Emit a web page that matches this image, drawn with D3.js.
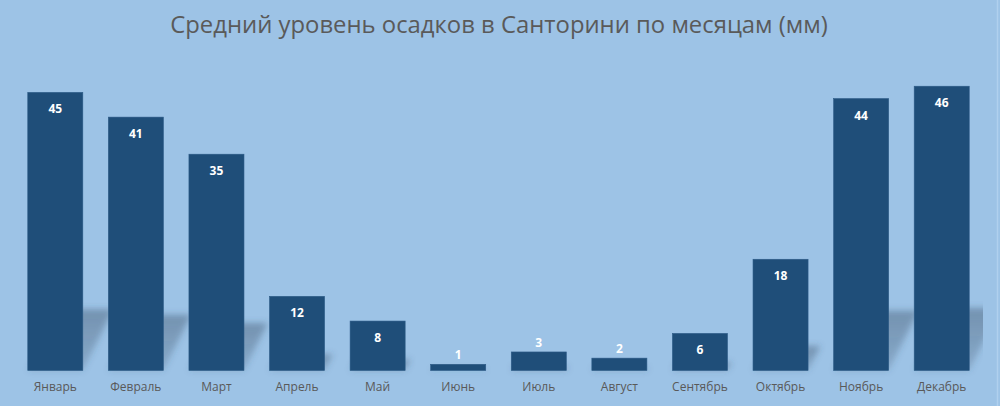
<!DOCTYPE html>
<html><head><meta charset="utf-8">
<script src="https://cdn.jsdelivr.net/npm/d3@7/dist/d3.min.js"></script>
<style>
html,body{margin:0;padding:0;background:#9dc3e6;}
svg{display:block;}
</style></head>
<body>
<svg id="chart" width="1000" height="406"></svg>
<script>
const months = ["Январь","Февраль","Март","Апрель","Май","Июнь","Июль","Август","Сентябрь","Октябрь","Ноябрь","Декабрь"];
const rainfall = [45, 41, 35, 12, 8, 1, 3, 2, 6, 18, 44, 46];
const titleText = "Средний уровень осадков в Санторини по месяцам (мм)";

const W = 1000, H = 406;
const svg = d3.select("#chart");
svg.append("rect").attr("width", W).attr("height", H).attr("fill", "#9dc3e6");
svg.append("line").attr("x1", 997.5).attr("x2", 997.5).attr("y1", 0).attr("y2", H)
  .attr("stroke", "#b0d0ee").attr("stroke-width", 1.5);

const x = d3.scaleBand().domain(months).range([15, 982]).paddingInner(0.317).paddingOuter(0.1585);
const y = d3.scaleLinear().domain([0, 50]).range([370.5, 61.5]);

const defs = svg.append("defs");
const f = defs.append("filter").attr("id", "blur").attr("x", "-30%").attr("y", "-30%").attr("width", "160%").attr("height", "160%");
f.append("feGaussianBlur").attr("stdDeviation", 3.2);
const g = defs.append("linearGradient").attr("id", "shgrad").attr("x1", 0).attr("y1", 1).attr("x2", 0).attr("y2", 0);
g.append("stop").attr("offset", "0%").attr("stop-color", "#3a4f66").attr("stop-opacity", 0.22);
g.append("stop").attr("offset", "100%").attr("stop-color", "#3a4f66").attr("stop-opacity", 0.42);
defs.append("clipPath").attr("id", "plotclip").append("rect").attr("x", 0).attr("y", 40).attr("width", 983).attr("height", 340);

// shadows
const sh = svg.append("g").attr("clip-path", "url(#plotclip)").append("g").attr("filter", "url(#blur)");
sh.selectAll("path").data(months).join("path")
  .attr("fill", "url(#shgrad)")
  .attr("d", (m, i) => {
    const h = y(0) - y(rainfall[i]);
    const s = h * 0.22, dx = s * 0.5;
    const x0 = x(m), x1 = x(m) + x.bandwidth(), b = y(0);
    return `M${x0},${b}L${x1},${b}L${x1 + dx},${b - s}L${x0 + dx},${b - s}Z`;
  });

// bars
svg.append("g").selectAll("rect").data(months).join("rect")
  .attr("x", m => x(m)).attr("width", x.bandwidth())
  .attr("y", (m, i) => y(rainfall[i])).attr("height", (m, i) => y(0) - y(rainfall[i]))
  .attr("fill", "#1f4e79").attr("stroke", "#2c5a86").attr("stroke-width", 0.6);

// value labels
svg.append("g").selectAll("text").data(months).join("text")
  .attr("x", m => x(m) + x.bandwidth() / 2)
  .attr("y", (m, i) => {
    const top = y(rainfall[i]);
    return (y(0) - top) < 25 ? top - 5 : top + 21;
  })
  .attr("text-anchor", "middle")
  .attr("font-family", "'Open Sans', 'Noto Sans', sans-serif")
  .attr("font-weight", "bold").attr("font-size", 12).attr("fill", "#ffffff")
  .text((m, i) => rainfall[i]);

// x axis labels
const xAxis = d3.axisBottom(x).tickSize(0).tickPadding(0);
const ax = svg.append("g").attr("transform", "translate(0,380)").call(xAxis);
ax.select(".domain").remove();
ax.selectAll("text").attr("font-family", "'Open Sans', 'Noto Sans', sans-serif")
  .attr("font-size", 12).attr("fill", "#595959").attr("dy", "0.9em");

// title
const t = svg.append("text").attr("x", 499).attr("y", 33).attr("text-anchor", "middle")
  .attr("font-family", "'Open Sans', 'Noto Sans', sans-serif").attr("font-size", 22)
  .attr("fill", "#5a5a5a").text(titleText);
const tl = t.node().getComputedTextLength();
t.attr("font-size", 22 * 658 / tl);
</script>
</body></html>
